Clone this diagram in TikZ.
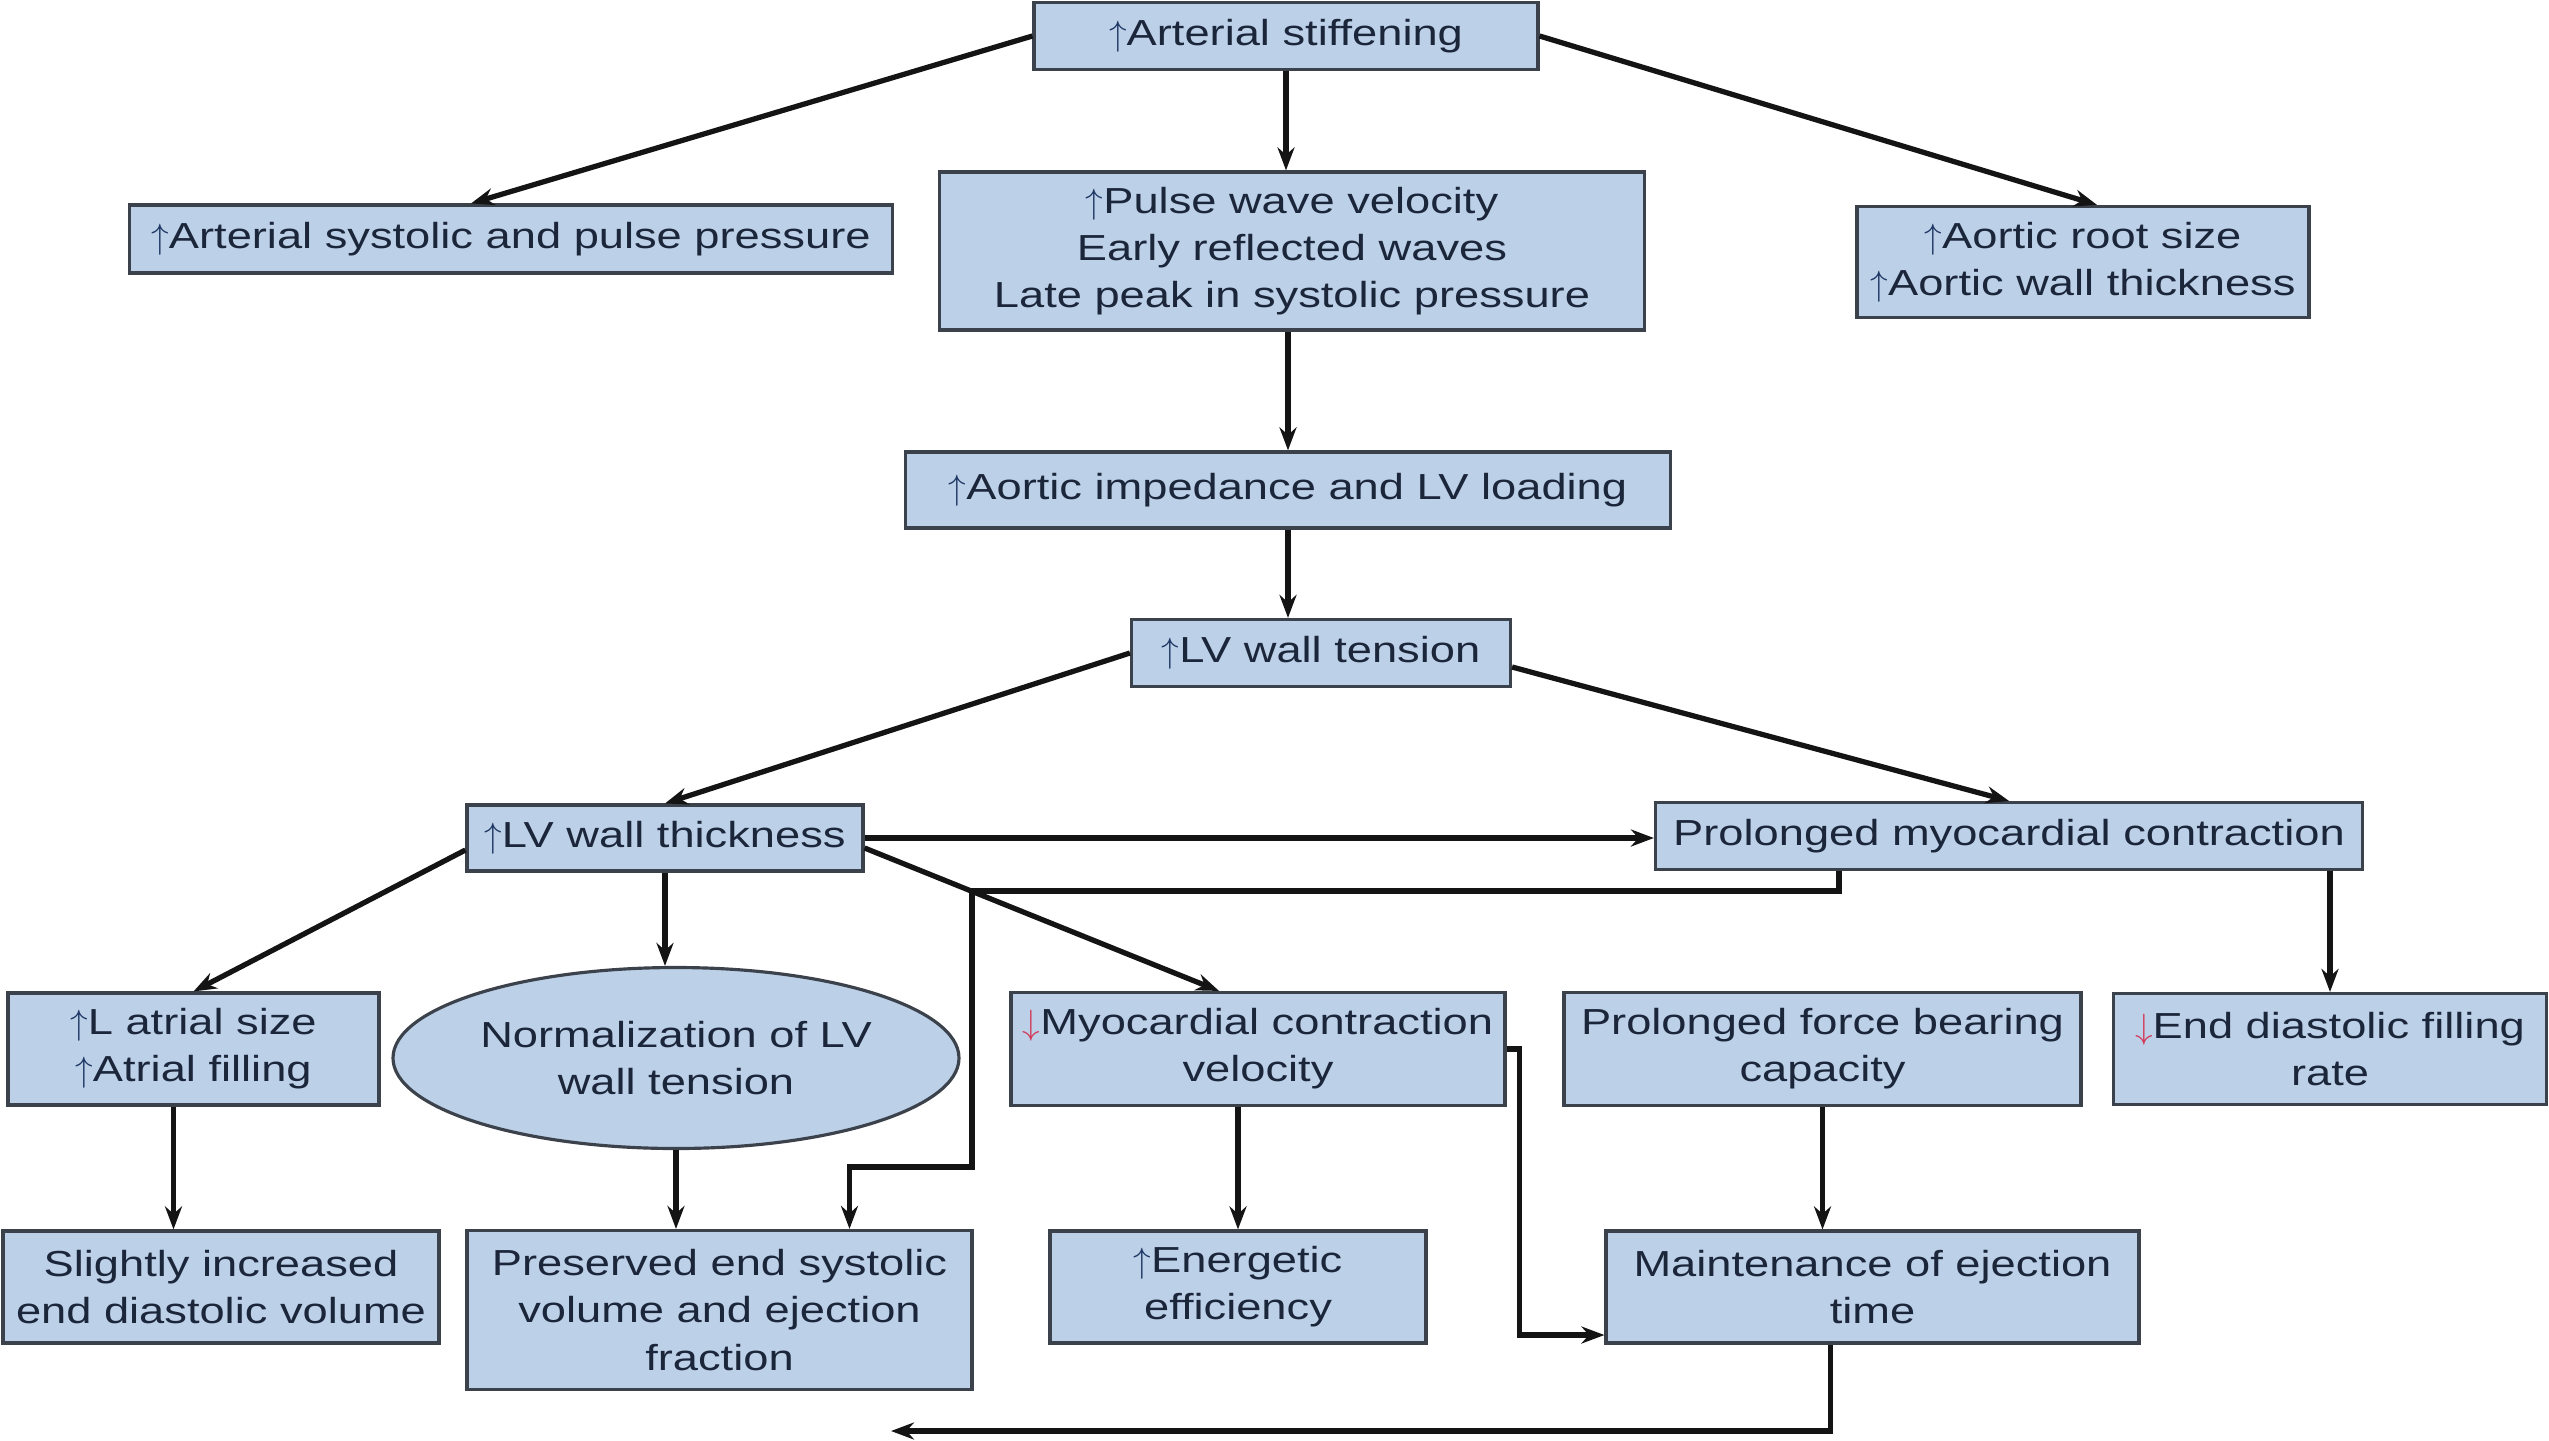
\documentclass[tikz,border=0pt]{standalone}
\usepackage{fontspec}
\setmainfont{Liberation Sans}[FakeStretch=1.25]
\usetikzlibrary{arrows.meta, positioning, shapes.geometric}
\definecolor{boxfill}{RGB}{188,208,232}
\definecolor{boxline}{RGB}{60,66,76}
\definecolor{textnavy}{RGB}{28,38,58}
\definecolor{upblue}{RGB}{30,55,100}
\definecolor{downred}{RGB}{210,60,90}
\definecolor{linegray}{RGB}{20,20,20}
\newcommand{\uparr}{\textcolor{upblue}{$\uparrow$}}
\newcommand{\downarr}{\textcolor{downred}{$\downarrow$}}
\tikzset{
    box/.style={ % blue boxes
        draw=boxline, fill=boxfill, line width=0.9pt,
        inner sep=0pt, align=center, text=textnavy,
        font=\fontsize{10.3}{13.4}\selectfont
    },
    oval/.style={box, ellipse},
    link/.style={ % connectors
        -{Stealth[length=2.3mm,width=1.7mm]},
        line width=1.5pt, draw=linegray
    }
}
\begin{document}
\begin{tikzpicture}
    \useasboundingbox (0,0) rectangle (25.49,-14.40);
    % top rows
    \node[box,minimum width=5.04cm,minimum height=0.67cm] (stiff) at (12.86,-0.36) {\uparr Arterial stiffening};
    \node[box,minimum width=7.63cm,minimum height=0.68cm] (syspress) at (5.11,-2.39) {\uparr Arterial systolic and pulse pressure};
    \node[box,minimum width=7.05cm,minimum height=1.58cm] (pwv) at (12.92,-2.51) {\uparr Pulse wave velocity\\Early reflected waves\\Late peak in systolic pressure};
    \node[box,minimum width=4.52cm,minimum height=1.11cm] (aorta) at (20.83,-2.62) {\uparr Aortic root size\\\uparr Aortic wall thickness};
    \node[box,minimum width=7.65cm,minimum height=0.76cm] (imped) at (12.88,-4.90) {\uparr Aortic impedance and LV loading};
    \node[box,minimum width=3.79cm,minimum height=0.67cm] (tension) at (13.21,-6.53) {\uparr LV wall tension};
    \node[box,minimum width=3.96cm,minimum height=0.66cm] (thick) at (6.65,-8.38) {\uparr LV wall thickness};
    \node[box,minimum width=7.07cm,minimum height=0.67cm] (prolong) at (20.09,-8.36) {Prolonged myocardial contraction};
    % middle row
    \node[box,minimum width=3.71cm,minimum height=1.12cm] (atrial) at (1.935,-10.49) {\uparr L atrial size\\\uparr Atrial filling};
    \node[oval,minimum width=5.66cm,minimum height=1.81cm] (normal) at (6.76,-10.58) {Normalization of LV\\wall tension};
    \node[box,minimum width=4.94cm,minimum height=1.13cm] (myovel) at (12.58,-10.49) {\downarr Myocardial contraction\\velocity};
    \node[box,minimum width=5.17cm,minimum height=1.13cm] (force) at (18.225,-10.49) {Prolonged force bearing\\capacity};
    \node[box,minimum width=4.33cm,minimum height=1.11cm] (filling) at (23.30,-10.49) {\downarr End diastolic filling\\rate};
    % bottom row
    \node[box,minimum width=4.36cm,minimum height=1.12cm] (edv) at (2.21,-12.87) {Slightly increased\\end diastolic volume};
    \node[box,minimum width=5.05cm,minimum height=1.59cm] (esv) at (7.195,-13.10) {Preserved end systolic\\volume and ejection\\fraction};
    \node[box,minimum width=3.76cm,minimum height=1.12cm] (energy) at (12.38,-12.87) {\uparr Energetic\\efficiency};
    \node[box,minimum width=5.33cm,minimum height=1.12cm] (eject) at (18.725,-12.87) {Maintenance of ejection\\time};
    \coordinate (loopa) at (9.72,-8.91);
    \coordinate (loopb) at (9.72,-11.67);
    \coordinate (backend) at (8.91,-14.31);

    \draw[link] (stiff.west) -- ([xshift=-4mm]syspress.north);
    \draw[link] (stiff.south) -- (stiff.south |- pwv.north);
    \draw[link] (stiff.east) -- ([xshift=1.4mm]aorta.north);
    \draw[link] (imped.north |- pwv.south) -- (imped.north);
    \draw[link] (imped.south) -- (imped.south |- tension.north);
    \draw[link] (tension.west) -- (thick.north);
    \draw[link] ([yshift=-1.4mm]tension.east) -- (prolong.north);
    \draw[link] ([yshift=-1.2mm]thick.west) -- (atrial.north);
    \draw[link] (thick.south) -- (thick.south |- normal.north);
    \draw[link] (thick.east) -- (thick.east -| prolong.west);
    \draw[link] ([yshift=-1mm]thick.east) -- ([xshift=-3.9mm]myovel.north);
    \draw[link] ([xshift=-17mm]prolong.south) |- (loopa) -- (loopb) -| ([xshift=13mm]esv.north);
    \draw[link] (filling.north |- prolong.south) -- (filling.north);
    \draw[link] ([xshift=-2mm]atrial.south) -- ([xshift=-2mm]atrial.south |- edv.north);
    \draw[link] (normal.south) -- (normal.south |- esv.north);
    \draw[link] (energy.north |- myovel.south) -- (energy.north);
    \draw[link] (myovel.east) -- ++(0.13,0) |- ([yshift=-4.8mm]eject.west);
    \draw[link] (force.south) -- (force.south |- eject.north);
    \draw[link] ([xshift=-4.2mm]eject.south) |- (backend);
\end{tikzpicture}
\end{document}
